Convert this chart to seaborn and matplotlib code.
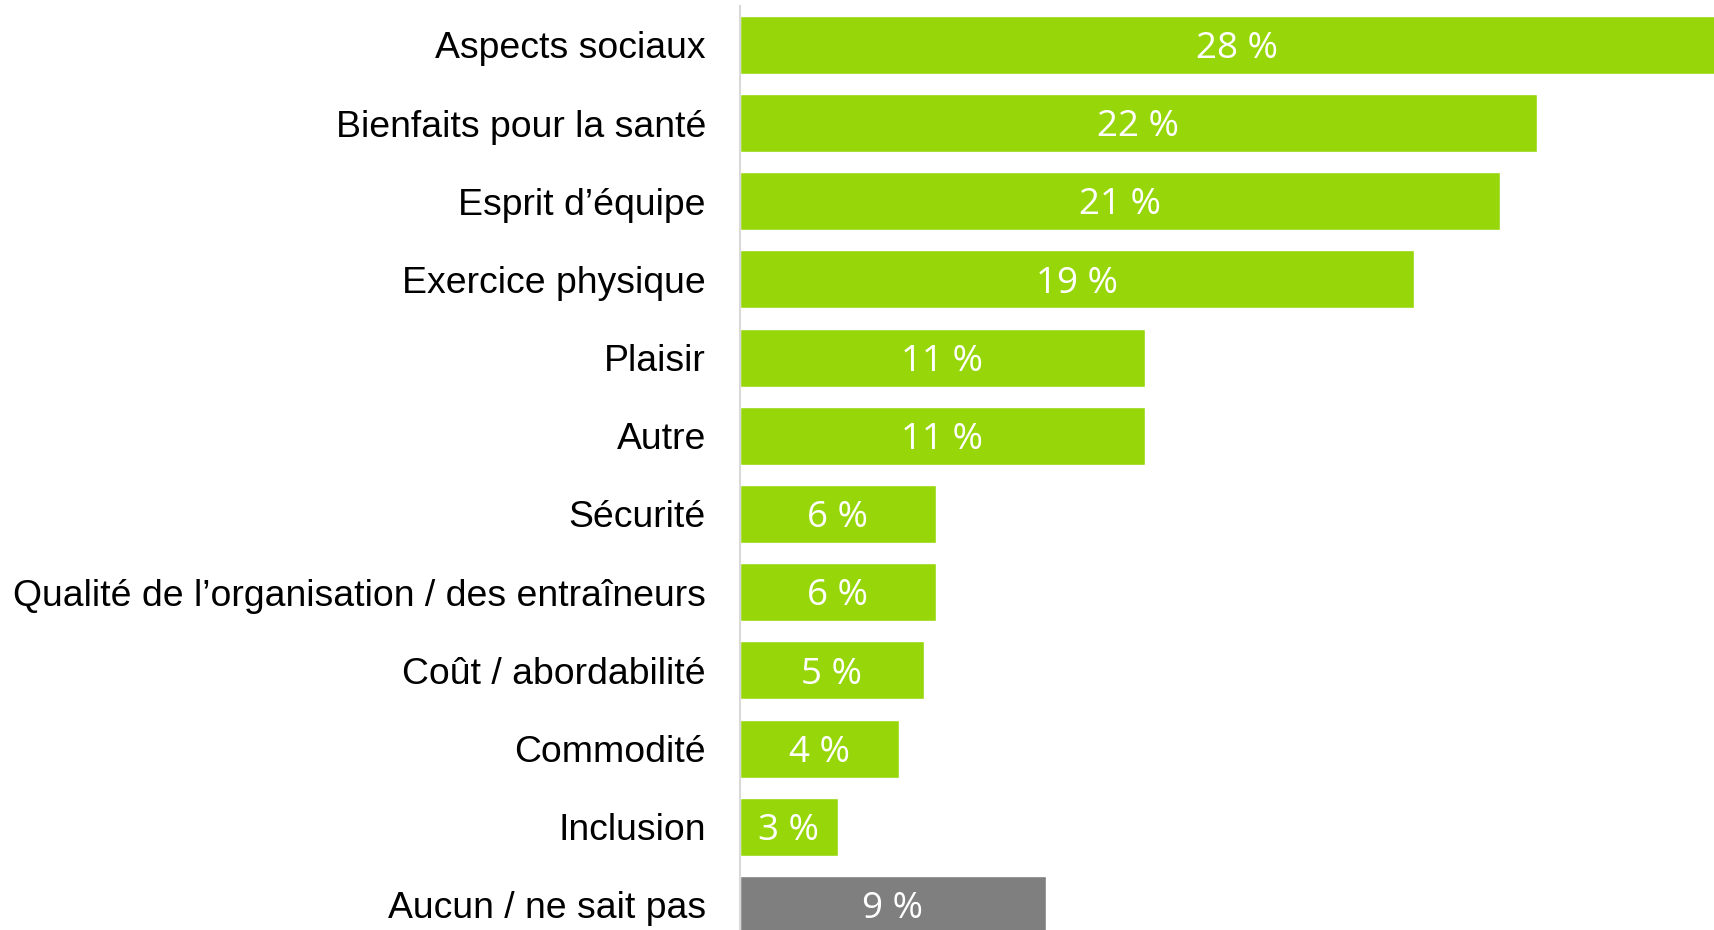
import matplotlib
matplotlib.use("Agg")
import matplotlib.pyplot as plt
import seaborn as sns
import pandas as pd

categories = [
    "Aspects sociaux",
    "Bienfaits pour la santé",
    "Esprit d’équipe",
    "Exercice physique",
    "Plaisir",
    "Autre",
    "Sécurité",
    "Qualité de l’organisation / des entraîneurs",
    "Coût / abordabilité",
    "Commodité",
    "Inclusion",
    "Aucun / ne sait pas",
]
values = [28.0, 22.45, 21.4, 19.0, 11.4, 11.4, 5.52, 5.52, 5.17, 4.47, 2.76, 8.62]
value_labels = ["28 %", "22 %", "21 %", "19 %", "11 %", "11 %", "6 %", "6 %",
                "5 %", "4 %", "3 %", "9 %"]
GREEN = "#97D70A"
GRAY = "#7F7F7F"
colors = [GREEN] * 11 + [GRAY]

df = pd.DataFrame({"cat": categories, "val": values})

sns.set_theme(style="white")
fig = plt.figure(figsize=(17.14, 9.30), dpi=100)
ax = fig.add_axes([740 / 1714, 0, 974 / 1714, (930 - 6.5) / 930])

sns.barplot(data=df, x="val", y="cat", hue="cat", palette=colors,
            legend=False, width=0.74, orient="h", ax=ax, saturation=1)

ax.set_xlim(0, 27.44)
ax.set_ylim(11.32, -0.49)

for i, (v, lab) in enumerate(zip(values, value_labels)):
    ax.annotate(lab, (v / 2, i), xytext=(0, -3), textcoords="offset points",
                ha="center", va="center", color="white",
                fontsize=26.5, family=["Open Sans", "DejaVu Sans"])

ax.set_xlabel("")
ax.set_ylabel("")
ax.set_xticks([])
ax.tick_params(axis="y", length=0, pad=24.5)
for t in ax.get_yticklabels():
    t.set_fontfamily(["Liberation Sans", "DejaVu Sans"])
    t.set_fontsize(26.9)
    t.set_color("black")

for s in ["top", "right", "bottom"]:
    ax.spines[s].set_visible(False)
ax.spines["left"].set_color("#D9D9D9")
ax.spines["left"].set_linewidth(1.5)

fig.savefig("out.png", dpi=100)
